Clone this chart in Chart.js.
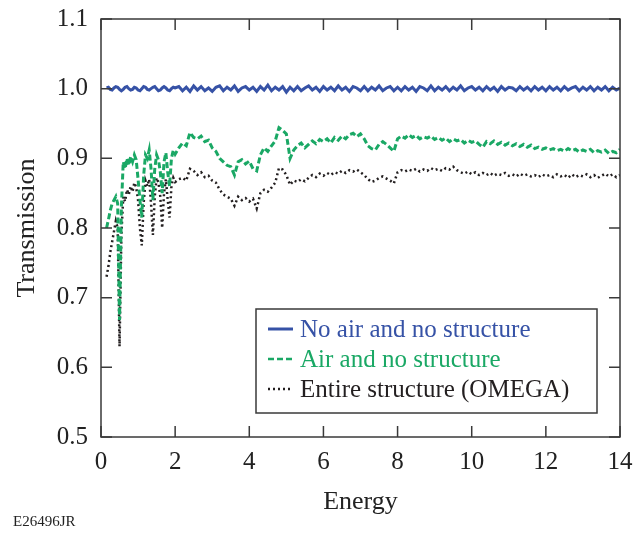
<!DOCTYPE html>
<html>
<head>
<meta charset="utf-8">
<script src="https://cdn.jsdelivr.net/npm/chart.js@4"></script>
<style>
  body { margin: 0; background: #fff; }
  canvas { display: block; }
</style>
</head>
<body>
<canvas id="chart" width="642" height="533"></canvas>
<script>
// energy grid (finer at the low end where the dips are)
const energy = [
  0.15, 0.20, 0.25, 0.30, 0.35, 0.40, 0.45, 0.50, 0.55, 0.60,
  0.65, 0.70, 0.75, 0.80, 0.85, 0.90, 0.95, 1.00, 1.05, 1.10,
  1.15, 1.20, 1.25, 1.30, 1.35, 1.40, 1.45, 1.50, 1.55, 1.60,
  1.65, 1.70, 1.75, 1.80, 1.85, 1.90, 1.95, 2.00,
  2.1, 2.2, 2.3, 2.4, 2.5, 2.6, 2.7, 2.8, 2.9, 3.0,
  3.1, 3.2, 3.3, 3.4, 3.5, 3.6, 3.7, 3.8, 3.9, 4.0,
  4.1, 4.2, 4.3, 4.4, 4.5, 4.6, 4.7, 4.8, 4.9, 5.0,
  5.1, 5.2, 5.3, 5.4, 5.5, 5.6, 5.7, 5.8, 5.9, 6.0,
  6.1, 6.2, 6.3, 6.4, 6.5, 6.6, 6.7, 6.8, 6.9, 7.0,
  7.1, 7.2, 7.3, 7.4, 7.5, 7.6, 7.7, 7.8, 7.9, 8.0,
  8.1, 8.2, 8.3, 8.4, 8.5, 8.6, 8.7, 8.8, 8.9, 9.0,
  9.1, 9.2, 9.3, 9.4, 9.5, 9.6, 9.7, 9.8, 9.9, 10.0,
  10.1, 10.2, 10.3, 10.4, 10.5, 10.6, 10.7, 10.8, 10.9, 11.0,
  11.1, 11.2, 11.3, 11.4, 11.5, 11.6, 11.7, 11.8, 11.9, 12.0,
  12.1, 12.2, 12.3, 12.4, 12.5, 12.6, 12.7, 12.8, 12.9, 13.0,
  13.1, 13.2, 13.3, 13.4, 13.5, 13.6, 13.7, 13.8, 13.9, 14.0
];

const noAirNoStructure = [
  1.001, 1.002, 0.999, 0.998, 1.001, 1.003, 1.002, 0.999, 0.997, 0.999,
  1.002, 1.003, 1.000, 0.998, 0.999, 1.002, 1.001, 0.998, 0.997, 1.000,
  1.003, 1.002, 0.999, 0.998, 1.000, 1.002, 1.003, 1.000, 0.997, 0.998,
  1.001, 1.003, 1.001, 0.998, 0.997, 1.000, 1.002, 1.001,
  1.003, 0.997, 1.002, 0.996, 1.004, 0.998, 1.003, 0.997, 1.001, 0.996,
  1.002, 1.004, 0.997, 1.002, 0.998, 1.004, 0.996, 1.001, 1.003, 0.998,
  1.002, 0.996, 1.003, 0.998, 1.005, 0.997, 1.002, 0.998, 1.003, 0.995,
  1.002, 0.997, 1.003, 0.997, 1.001, 1.004, 0.998, 1.002, 0.996, 1.003,
  0.998, 1.002, 0.997, 1.004, 0.998, 1.002, 0.996, 1.003, 1.001, 0.997,
  1.003, 0.997, 1.002, 0.998, 1.004, 0.997, 1.001, 1.003, 0.997, 1.002,
  0.997, 1.003, 0.998, 1.002, 0.996, 1.003, 1.001, 0.997, 1.004, 0.997,
  1.002, 0.998, 1.003, 0.997, 1.002, 0.998, 1.004, 0.997, 1.001, 1.003,
  0.998, 1.002, 0.997, 1.003, 0.998, 1.002, 0.996, 1.003, 0.998, 1.002,
  1.001, 0.997, 1.003, 0.998, 1.002, 0.997, 1.003, 0.998, 1.002, 0.997,
  1.003, 0.998, 1.002, 0.997, 1.003, 0.998, 1.001, 1.003, 0.997, 1.002,
  0.998, 1.003, 0.997, 1.002, 0.998, 1.003, 0.997, 1.002, 0.998, 1.001
];

const airNoStructure = [
  0.800, 0.812, 0.825, 0.835, 0.840, 0.845, 0.835, 0.668, 0.830, 0.895,
  0.885, 0.900, 0.890, 0.902, 0.895, 0.905, 0.898, 0.870, 0.840, 0.815,
  0.875, 0.905, 0.900, 0.912, 0.885, 0.840, 0.885, 0.905, 0.898, 0.880,
  0.850, 0.895, 0.908, 0.880, 0.860, 0.900, 0.912, 0.906,
  0.915, 0.922, 0.918, 0.937, 0.930, 0.928, 0.932, 0.924, 0.926, 0.915,
  0.910, 0.900, 0.895, 0.890, 0.888, 0.876, 0.895, 0.898, 0.892, 0.896,
  0.885, 0.882, 0.905, 0.915, 0.910, 0.918, 0.925, 0.944, 0.940, 0.935,
  0.900, 0.912, 0.918, 0.922, 0.915, 0.920, 0.925, 0.921, 0.927, 0.924,
  0.928, 0.922, 0.930, 0.926, 0.932, 0.928, 0.934, 0.936, 0.931, 0.935,
  0.928, 0.918, 0.914, 0.912, 0.920, 0.924, 0.920, 0.915, 0.910, 0.928,
  0.932, 0.929, 0.934, 0.930, 0.933, 0.928, 0.931, 0.929, 0.932, 0.927,
  0.930, 0.926, 0.929, 0.924, 0.928, 0.925, 0.927, 0.922, 0.926, 0.923,
  0.925, 0.920, 0.916, 0.924, 0.921, 0.925, 0.920, 0.923, 0.919, 0.922,
  0.918, 0.921, 0.917, 0.920, 0.916, 0.919, 0.914, 0.916, 0.913, 0.915,
  0.912, 0.914, 0.911, 0.913, 0.910, 0.914, 0.911, 0.913, 0.909, 0.912,
  0.910, 0.913, 0.908, 0.911, 0.909, 0.912, 0.907, 0.910, 0.908, 0.913
];

const entireStructure = [
  0.730, 0.745, 0.765, 0.780, 0.795, 0.810, 0.800, 0.630, 0.790, 0.845,
  0.838, 0.855, 0.848, 0.860, 0.852, 0.865, 0.858, 0.840, 0.800, 0.775,
  0.835, 0.868, 0.860, 0.870, 0.835, 0.790, 0.845, 0.872, 0.865, 0.845,
  0.800, 0.850, 0.870, 0.840, 0.815, 0.860, 0.872, 0.866,
  0.870, 0.872, 0.868, 0.885, 0.882, 0.876, 0.880, 0.873, 0.875, 0.868,
  0.865, 0.855, 0.848, 0.845, 0.842, 0.832, 0.845, 0.840, 0.843, 0.838,
  0.842, 0.828, 0.850, 0.855, 0.852, 0.858, 0.865, 0.886, 0.884, 0.876,
  0.862, 0.868, 0.866, 0.870, 0.867, 0.872, 0.876, 0.873, 0.878, 0.875,
  0.879, 0.876, 0.880, 0.878, 0.882, 0.879, 0.883, 0.881, 0.884, 0.880,
  0.876, 0.870, 0.866, 0.868, 0.872, 0.874, 0.871, 0.868, 0.864, 0.880,
  0.883, 0.881, 0.884, 0.882, 0.885, 0.881, 0.884, 0.882, 0.886, 0.883,
  0.885, 0.882, 0.886, 0.884, 0.888, 0.883, 0.880, 0.878, 0.881, 0.877,
  0.880, 0.876, 0.879, 0.876, 0.879, 0.875, 0.878, 0.876, 0.879, 0.875,
  0.877, 0.874, 0.878, 0.875, 0.877, 0.874, 0.876, 0.873, 0.877, 0.874,
  0.876, 0.873, 0.877, 0.874, 0.876, 0.872, 0.877, 0.873, 0.876, 0.874,
  0.877, 0.873, 0.876, 0.872, 0.875, 0.878, 0.874, 0.877, 0.873, 0.876
];

const seriesNames = ['No air and no structure', 'Air and no structure', 'Entire structure (OMEGA)'];
const seriesColors = ['#3652a6', '#1aa865', '#231f20'];
const xTicks = [0, 2, 4, 6, 8, 10, 12, 14];
const yTicks = [0.5, 0.6, 0.7, 0.8, 0.9, 1.0, 1.1];

const FONT = "'Liberation Serif', 'Times New Roman', serif";
const toPoints = vals => vals.map((v, i) => ({ x: energy[i], y: v }));

// frame with inward ticks on all four sides, plus the figure id
const framePlugin = {
    id: 'frame',
    afterDatasetsDraw(chart) {
        const { ctx, chartArea: a, scales: { x, y } } = chart;
        ctx.save();
        ctx.strokeStyle = '#3a3a3a';
        ctx.lineWidth = 1.5;
        ctx.strokeRect(a.left, a.top, a.right - a.left, a.bottom - a.top);
        ctx.beginPath();
        xTicks.forEach(t => {
            const px = x.getPixelForValue(t);
            ctx.moveTo(px, a.bottom); ctx.lineTo(px, a.bottom - 11);
            ctx.moveTo(px, a.top); ctx.lineTo(px, a.top + 11);
        });
        yTicks.forEach(t => {
            const py = y.getPixelForValue(t);
            ctx.moveTo(a.left, py); ctx.lineTo(a.left + 11, py);
            ctx.moveTo(a.right, py); ctx.lineTo(a.right - 11, py);
        });
        ctx.stroke();
        ctx.fillStyle = '#222';
        ctx.font = `15px ${FONT}`;
        ctx.textBaseline = 'middle';
        ctx.fillText('E26496JR', 13, 522);
        ctx.restore();
    }
};

// boxed legend inside the plot
const legendPlugin = {
    id: 'boxLegend',
    afterDraw(chart) {
        const { ctx } = chart;
        const dashes = [[], [6, 3], [2, 3]];
        ctx.save();
        ctx.fillStyle = '#fff';
        ctx.fillRect(256, 309, 341, 104);
        ctx.strokeStyle = '#3a3a3a';
        ctx.lineWidth = 1.5;
        ctx.strokeRect(256, 309, 341, 104);
        ctx.font = `25px ${FONT}`;
        ctx.textBaseline = 'middle';
        seriesNames.forEach((name, i) => {
            const cy = 329 + i * 30;
            ctx.beginPath();
            ctx.setLineDash(dashes[i]);
            ctx.strokeStyle = seriesColors[i];
            ctx.lineWidth = i === 0 ? 3 : 2.5;
            ctx.moveTo(268, cy); ctx.lineTo(293, cy);
            ctx.stroke();
            ctx.setLineDash([]);
            ctx.fillStyle = seriesColors[i];
            ctx.fillText(name, 300, cy + 1);
        });
        ctx.restore();
    }
};

new Chart(document.getElementById('chart'), {
    type: 'line',
    data: {
        datasets: [
            { label: seriesNames[0], data: toPoints(noAirNoStructure), borderColor: seriesColors[0], borderWidth: 3 },
            { label: seriesNames[1], data: toPoints(airNoStructure), borderColor: seriesColors[1], borderWidth: 3, borderDash: [6, 3] },
            { label: seriesNames[2], data: toPoints(entireStructure), borderColor: seriesColors[2], borderWidth: 2.5, borderDash: [2, 3] }
        ]
    },
    options: {
        responsive: false,
        animation: false,
        devicePixelRatio: 1,
        elements: { point: { radius: 0 }, line: { tension: 0 } },
        layout: { padding: { left: 0, top: 19, right: 22, bottom: 0 } },
        plugins: { legend: { display: false }, tooltip: { enabled: false } },
        scales: {
            x: {
                type: 'linear',
                min: 0, max: 14,
                afterFit: s => { s.height = 96; s.paddingLeft = 0; s.paddingRight = 0; },
                grid: { display: false, drawTicks: false },
                border: { display: false },
                ticks: { stepSize: 2, padding: 10, color: '#222', font: { family: FONT, size: 25 } },
                title: { display: true, text: 'Energy', color: '#222', font: { family: FONT, size: 26 }, padding: { top: 0, bottom: 15 } }
            },
            y: {
                min: 0.5, max: 1.1,
                afterFit: s => { s.width = 101; s.paddingTop = 0; s.paddingBottom = 0; },
                grid: { display: false, drawTicks: false },
                border: { display: false },
                ticks: { stepSize: 0.1, padding: 13, color: '#222', font: { family: FONT, size: 25 }, callback: v => v.toFixed(1) },
                title: { display: true, text: 'Transmission', color: '#222', font: { family: FONT, size: 26 }, padding: { top: 12, bottom: 0 } }
            }
        }
    },
    plugins: [framePlugin, legendPlugin]
});
</script>
</body>
</html>
